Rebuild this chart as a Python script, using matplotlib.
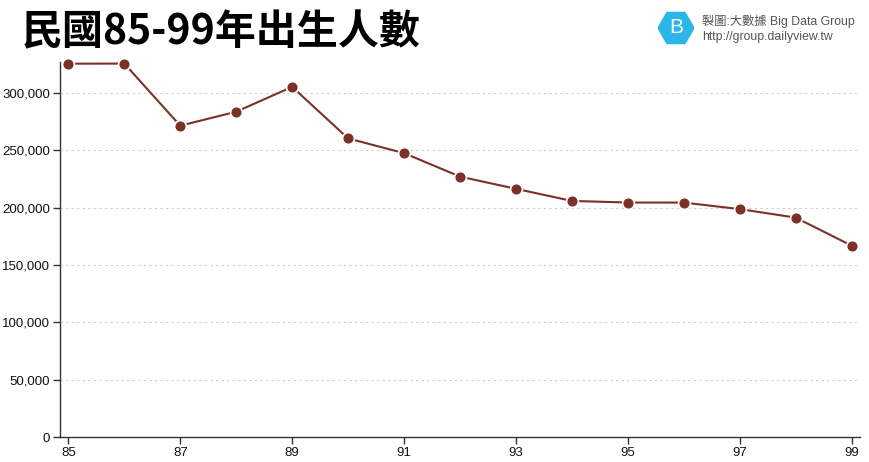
import matplotlib
matplotlib.use("Agg")
import matplotlib.pyplot as plt
import matplotlib.patches as mpatches
from matplotlib.ticker import FuncFormatter, MultipleLocator
import numpy as np

plt.rcParams['font.family'] = ['Liberation Sans', 'Noto Sans CJK TC', 'DejaVu Sans']

years = [85, 86, 87, 88, 89, 90, 91, 92, 93, 94, 95, 96, 97, 98, 99]
births = [325545, 325613, 271450, 283661, 305312, 260354, 247530, 227070,
          216419, 205854, 204459, 204414, 198733, 191310, 166886]
tick_years = [85, 87, 89, 91, 93, 95, 97, 99]
title = "民國85-99年出生人數"

line_color = "#7b3128"

fig = plt.figure(figsize=(8.7, 4.62), dpi=100)
ax = fig.add_axes([60 / 870, 25 / 462, 800 / 870, 375 / 462])

ax.plot(years, births, color=line_color, lw=1.5, marker="o", ms=8.5,
        mfc=line_color, mec="white", mew=1.2, zorder=3, clip_on=False)

ax.set_xlim(84.85, 99.15)
ax.set_ylim(0, 327000)
ax.set_xticks(tick_years)
ax.yaxis.set_major_locator(MultipleLocator(50000))
ax.yaxis.set_major_formatter(FuncFormatter(lambda v, p: f"{int(v):,}"))
ax.grid(axis="y", color="#cccccc", lw=0.8, ls=(0, (2, 3)))
ax.set_axisbelow(True)

for s in ["top", "right"]:
    ax.spines[s].set_visible(False)
for s in ["left", "bottom"]:
    ax.spines[s].set_color("#333333")
    ax.spines[s].set_linewidth(1)
ax.tick_params(colors="#333333", labelcolor="#111111", labelsize=9.5, length=5, width=1, pad=2)

fig.text(22 / 870, 1 - 32 / 462, title, fontsize=29.5, fontweight="bold",
         family=["Noto Sans CJK TC"], va="center", ha="left", color="#000000")

# logo
lax = fig.add_axes([658 / 870, 1 - 46 / 462, 36 / 870, 36 / 462])
lax.set_xlim(-1, 1)
lax.set_ylim(-1, 1)
lax.set_aspect("equal")
lax.axis("off")
lax.add_patch(mpatches.RegularPolygon((0, 0), numVertices=6, radius=1,
                                      orientation=np.pi / 6, color="#2bb5e8"))
lax.text(0, 0, "B", fontsize=15, color="white", ha="center", va="center")

fig.text(702 / 870, 1 - 21 / 462, "製圖:大數據 Big Data Group", fontsize=8.8,
         family=["Liberation Sans", "Noto Sans CJK TC"], color="#555555",
         ha="left", va="center")
fig.text(702 / 870, 1 - 37 / 462, "http://group.dailyview.tw", fontsize=8.8,
         color="#555555", ha="left", va="center")

fig.savefig("out.png", dpi=100)
